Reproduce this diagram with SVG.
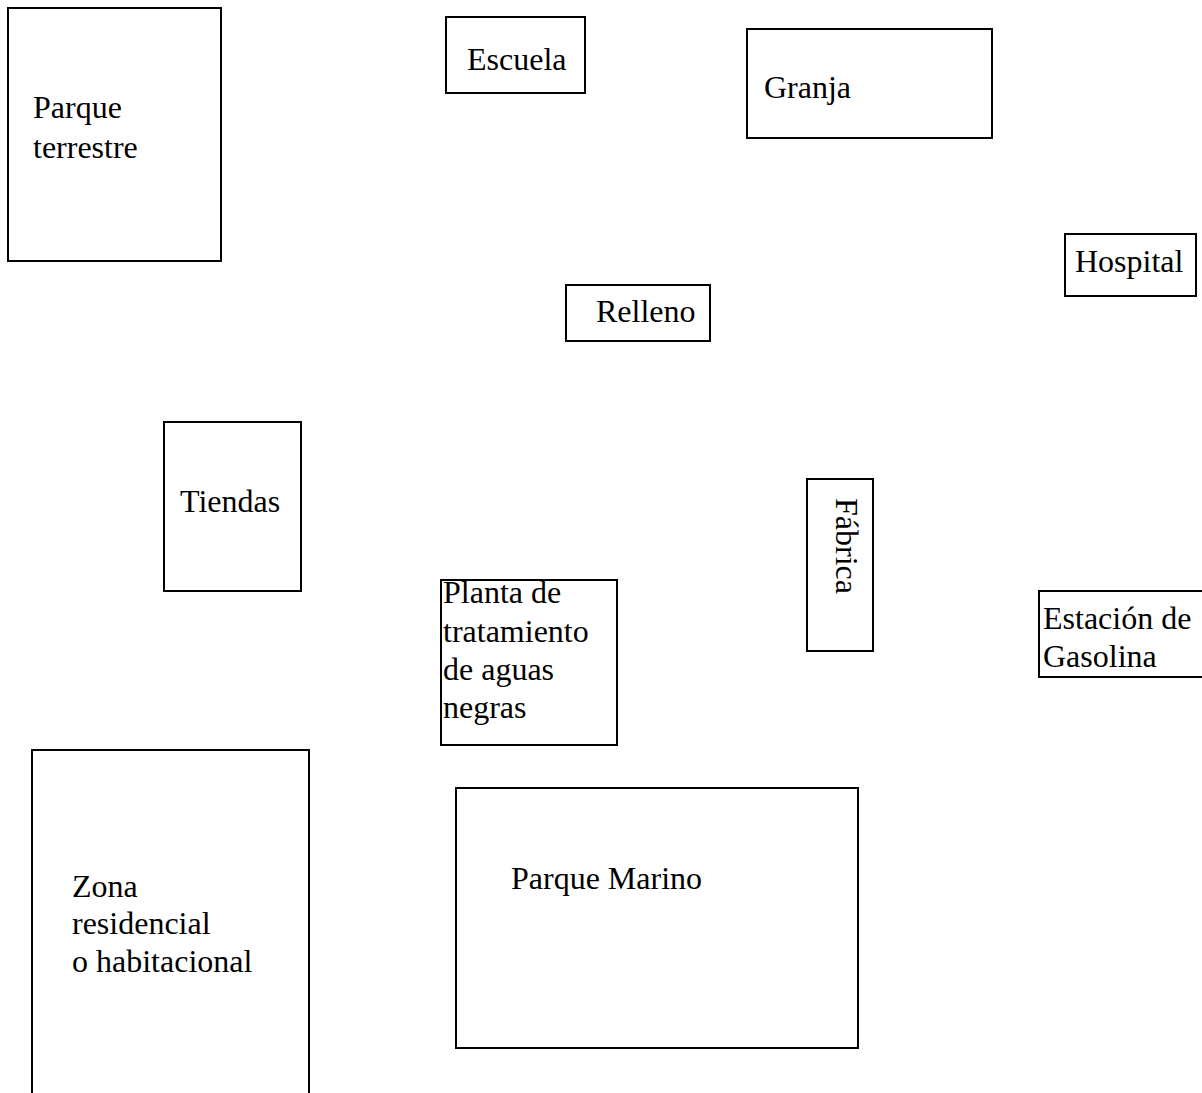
<svg xmlns="http://www.w3.org/2000/svg" width="1202" height="1093" viewBox="0 0 1202 1093">
  <style>
    .box { fill: #ffffff; stroke: #000000; stroke-width: 2; }
    .lbl { font-family: "Liberation Serif", "Times New Roman", serif; font-size: 32px; fill: #000000; }
  </style>
  <rect width="1202" height="1093" fill="#ffffff"/>

  <g id="parque-terrestre">
    <rect class="box" x="8" y="8" width="213" height="253"/>
    <text class="lbl" x="33" y="118">Parque</text>
    <text class="lbl" x="33" y="158">terrestre</text>
  </g>

  <g id="escuela">
    <rect class="box" x="446" y="17" width="139" height="76"/>
    <text class="lbl" x="467" y="70">Escuela</text>
  </g>

  <g id="granja">
    <rect class="box" x="747" y="29" width="245" height="109"/>
    <text class="lbl" x="764" y="98">Granja</text>
  </g>

  <g id="hospital">
    <rect class="box" x="1065" y="234" width="131" height="62"/>
    <text class="lbl" x="1075" y="272">Hospital</text>
  </g>

  <g id="relleno">
    <rect class="box" x="566" y="285" width="144" height="56"/>
    <text class="lbl" x="596" y="322">Relleno</text>
  </g>

  <g id="tiendas">
    <rect class="box" x="164" y="422" width="137" height="169"/>
    <text class="lbl" x="180" y="512">Tiendas</text>
  </g>

  <g id="fabrica">
    <rect class="box" x="807" y="479" width="66" height="172"/>
    <text class="lbl" transform="translate(836,498) rotate(90)">Fábrica</text>
  </g>

  <g id="estacion-gasolina">
    <rect class="box" x="1039" y="591" width="170" height="86"/>
    <text class="lbl" x="1043" y="629">Estación de</text>
    <text class="lbl" x="1043" y="667">Gasolina</text>
  </g>

  <g id="planta-tratamiento">
    <rect class="box" x="441" y="580" width="176" height="165"/>
    <text class="lbl" x="443" y="603">Planta de</text>
    <text class="lbl" x="443" y="642">tratamiento</text>
    <text class="lbl" x="443" y="680">de aguas</text>
    <text class="lbl" x="443" y="718">negras</text>
  </g>

  <g id="zona-residencial">
    <rect class="box" x="32" y="750" width="277" height="360"/>
    <text class="lbl" x="72" y="897">Zona</text>
    <text class="lbl" x="72" y="934">residencial</text>
    <text class="lbl" x="72" y="972">o habitacional</text>
  </g>

  <g id="parque-marino">
    <rect class="box" x="456" y="788" width="402" height="260"/>
    <text class="lbl" x="511" y="889">Parque Marino</text>
  </g>

  <g id="connectors"/>
</svg>
